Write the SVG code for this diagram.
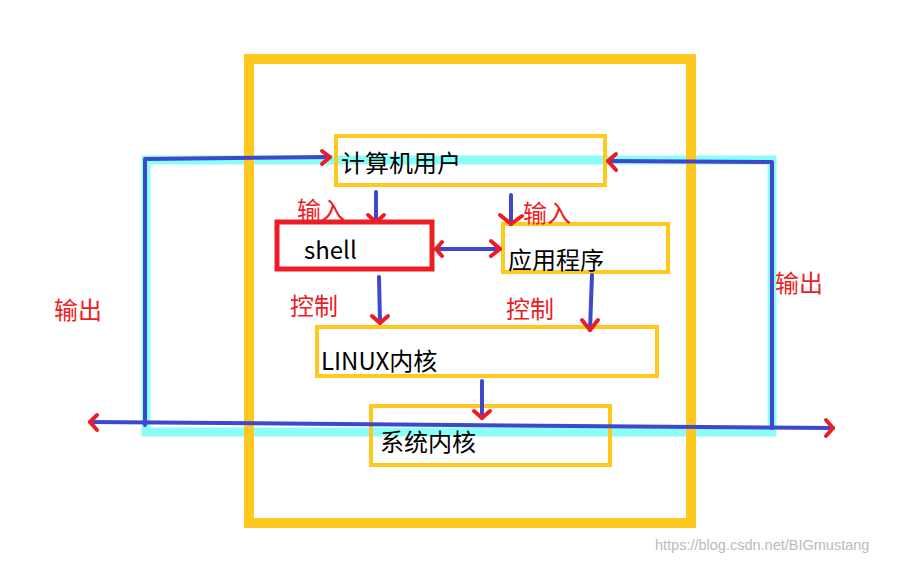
<svg xmlns="http://www.w3.org/2000/svg" width="900" height="562" viewBox="0 0 900 562">
<style>
.box{fill:none;stroke:#FFC81E;stroke-width:4}
.t{font-family:"Microsoft YaHei","Noto Sans CJK SC",sans-serif;font-size:24px;fill:#000}
.r{font-family:"Microsoft YaHei","Noto Sans CJK SC",sans-serif;font-size:24px;fill:#EE1C24}
.b{fill:none;stroke:#3F48CC;stroke-width:4;stroke-linecap:round;stroke-linejoin:round}
.h{fill:none;stroke:#EE1C24;stroke-width:4;stroke-linecap:round;stroke-linejoin:round}
</style>
<rect width="900" height="562" fill="#fff"/>
<rect x="146" y="160" width="626" height="272" fill="none" stroke="#8AFFF7" stroke-width="9"/>
<rect x="249" y="59" width="442" height="464" fill="none" stroke="#FFC81E" stroke-width="10"/>
<g id="user"><rect class="box" x="336" y="136" width="269" height="49"/><text class="t" x="341" y="172">计算机用户</text></g>
<g id="shell"><rect x="277" y="222" width="155" height="47" fill="#fff" stroke="#EE1C24" stroke-width="5"/><text class="t" x="304" y="259">shell</text></g>
<g id="app"><rect class="box" x="503" y="224" width="165" height="48"/><text class="t" x="508" y="269">应用程序</text></g>
<g id="linux"><rect class="box" x="317" y="327" width="340" height="49"/><text class="t" x="321" y="370">LINUX内核</text></g>
<g id="kernel"><rect class="box" x="371" y="406" width="239" height="59"/><text class="t" x="380" y="451">系统内核</text></g>
<g id="connectors">
<polyline class="b" points="145,425 145,159 330,157"/>
<polyline class="b" points="608,161 772,162 772,428"/>
<line class="b" x1="90" y1="422" x2="833" y2="428"/>
<line class="b" x1="376" y1="192" x2="376" y2="222"/>
<line class="b" x1="511" y1="195" x2="511" y2="224"/>
<line class="b" x1="436" y1="249" x2="500" y2="249"/>
<line class="b" x1="379" y1="277" x2="380" y2="323"/>
<line class="b" x1="592" y1="275" x2="590" y2="330"/>
<line class="b" x1="482" y1="381" x2="482" y2="418"/>
<polyline class="h" points="322,151 330,157 322,164"/>
<polyline class="h" points="616,154 608,161 616,170"/>
<polyline class="h" points="97,415 90,422 97,430"/>
<polyline class="h" points="826,420 833,428 826,436"/>
<polyline class="h" points="368,215 376,222 384,215"/>
<polyline class="h" points="500,215 511,224 522,216"/>
<polyline class="h" points="442,242 436,249 442,256"/>
<polyline class="h" points="491,241 500,249 491,256"/>
<polyline class="h" points="372,316 380,323 388,316"/>
<polyline class="h" points="582,320 590,330 598,320"/>
<polyline class="h" points="474,411 482,418 490,411"/>
</g>
<text class="r" x="297" y="219">输入</text>
<text class="r" x="523" y="222">输入</text>
<text class="r" x="290" y="315">控制</text>
<text class="r" x="506" y="318">控制</text>
<text class="r" x="54" y="319">输出</text>
<text class="r" x="775" y="292">输出</text>
<text x="655" y="550" font-family="Liberation Sans,sans-serif" font-size="14.5" fill="#bbb">https://blog.csdn.net/BIGmustang</text>
</svg>
